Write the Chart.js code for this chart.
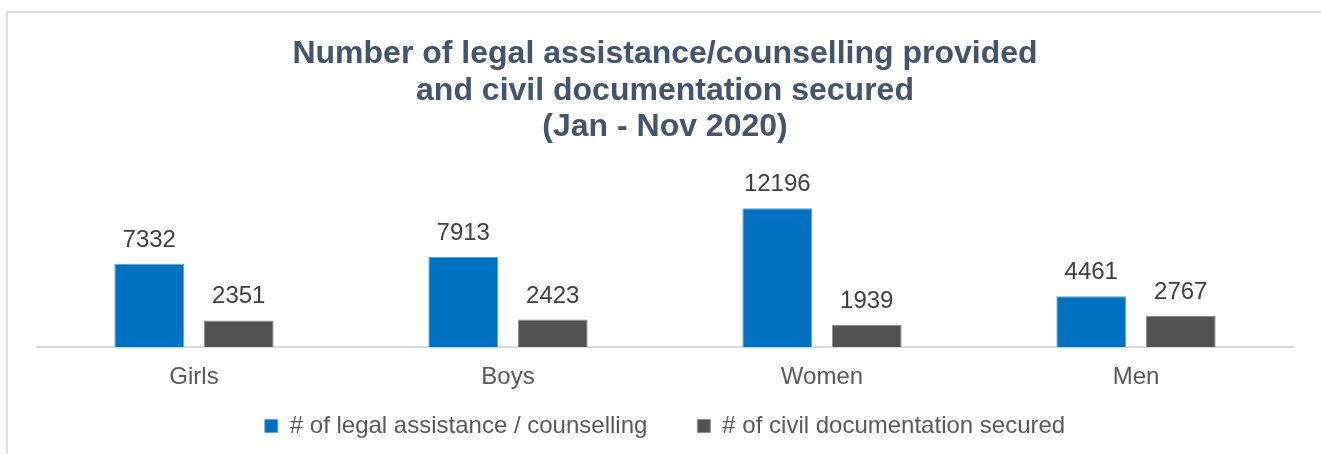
<!DOCTYPE html>
<html>
<head>
<meta charset="utf-8">
<script src="https://cdn.jsdelivr.net/npm/chart.js@4.4.1/dist/chart.umd.min.js"></script>
<style>
  html, body { margin: 0; padding: 0; background: #ffffff; overflow: hidden; }
  #wrap { position: relative; width: 1321px; height: 454px; overflow: hidden; }
  #frame { position: absolute; left: 6px; top: 11px; width: 1330px; height: 480px;
           border: 2px solid #dedede; box-sizing: border-box; }
  #c { position: absolute; left: 0; top: 0; }
</style>
</head>
<body>
<div id="wrap">
  <div id="frame"></div>
  <canvas id="c" width="1321" height="454"></canvas>
</div>
<script>
const categories = ['Girls', 'Boys', 'Women', 'Men'];
const legalAssistance = [7332, 7913, 12196, 4461];
const civilDocumentation = [2351, 2423, 1939, 2767];
const seriesNames = ['# of legal assistance / counselling', '# of civil documentation secured'];
const titleLines = ['Number of legal assistance/counselling provided', 'and civil documentation secured', '(Jan - Nov 2020)'];

const FONT = '"Liberation Sans", Arial, Helvetica, sans-serif';
const LEGEND_PAD = 50;
const LEGEND_LIFT = 44;

const valueLabels = {
  id: 'valueLabels',
  afterDatasetsDraw(chart) {
    const ctx = chart.ctx;
    ctx.save();
    ctx.font = '24px ' + FONT;
    ctx.fillStyle = '#404040';
    ctx.textAlign = 'center';
    ctx.textBaseline = 'alphabetic';
    chart.data.datasets.forEach((ds, i) => {
      chart.getDatasetMeta(i).data.forEach((bar, j) => {
        ctx.fillText(String(ds.data[j]), bar.x, bar.y - 17);
      });
    });
    ctx.restore();
  }
};

const legendTweak = {
  id: 'legendTweak',
  beforeLayout(chart) {
    const lg = chart.legend;
    if (lg && !lg.__tweaked) {
      lg.__tweaked = true;
      const origFit = lg.fit;
      lg.fit = function () { origFit.call(this); this.height -= LEGEND_LIFT; };
    }
  },
  afterLayout(chart) {
    const lg = chart.legend;
    if (lg) { lg.top -= LEGEND_LIFT; lg.height += LEGEND_LIFT; }
  }
};

new Chart(document.getElementById('c'), {
  type: 'bar',
  data: {
    labels: categories,
    datasets: [
      { label: seriesNames[0], data: legalAssistance, backgroundColor: '#0070C0',
        borderColor: '#5fa3d9', borderWidth: 1 },
      { label: seriesNames[1], data: civilDocumentation, backgroundColor: '#525252',
        borderColor: '#8c8c8c', borderWidth: 1 }
    ]
  },
  options: {
    responsive: false,
    animation: false,
    categoryPercentage: 0.57,
    barPercentage: 0.78,
    layout: { padding: { left: 37, right: 28, top: 0, bottom: 6 } },
    plugins: {
      title: {
        display: true,
        text: titleLines,
        color: '#44546A',
        font: { family: FONT, size: 32, weight: 'bold', lineHeight: 1.14 },
        padding: { top: 36, bottom: 24 }
      },
      legend: {
        display: true,
        position: 'bottom',
        labels: {
          color: '#595959',
          font: { family: FONT, size: 24 },
          boxWidth: 13,
          boxHeight: 13,
          padding: LEGEND_PAD
        }
      },
      tooltip: { enabled: false }
    },
    scales: {
      x: {
        grid: { display: false, drawTicks: false },
        border: { display: true, color: '#d9d9d9', width: 2 },
        ticks: { color: '#595959', font: { family: FONT, size: 24 }, padding: 16 }
      },
      y: {
        display: false,
        min: 0,
        max: 15600,
        grid: { display: false }
      }
    }
  },
  plugins: [valueLabels, legendTweak]
});
</script>
</body>
</html>
